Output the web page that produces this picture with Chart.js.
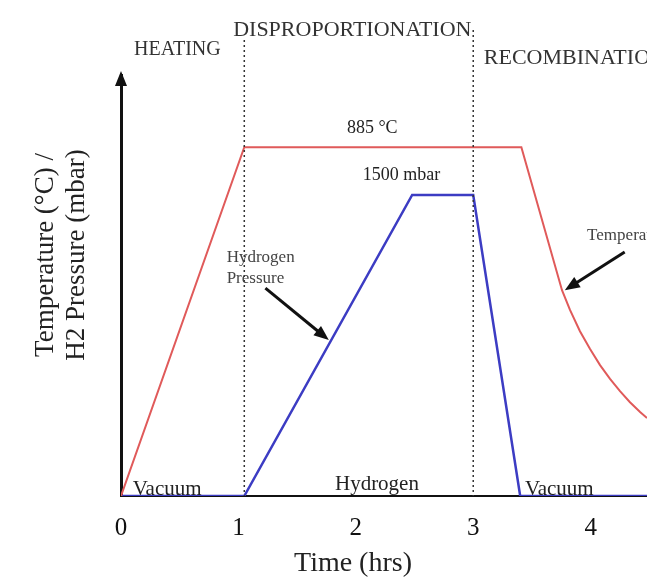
<!DOCTYPE html>
<html>
<head>
<meta charset="utf-8">
<script src="https://cdn.jsdelivr.net/npm/chart.js@4.4.1/dist/chart.umd.min.js"></script>
<style>
  body { margin: 0; background: #fff; }
  canvas { display: block; }
</style>
</head>
<body>
<canvas id="myChart" width="647" height="578"></canvas>
<script>
var serif = '"Liberation Serif", "Times New Roman", serif';

// temperature profile (deg C against hours)
var tempTime = [0, 1.05, 3.41, 3.756, 3.824, 3.909, 3.995, 4.08, 4.165, 4.25, 4.335, 4.421, 4.48];
var tempC = [0, 885, 885, 522, 472, 418, 373, 332, 297, 266, 238, 213, 198];
// hydrogen pressure (mbar against hours)
var presTime = [0, 1.05, 2.48, 3.0, 3.40, 4.48];
var presMbar = [0, 0, 1500, 1500, 0, 0];
var xTicks = [0, 1, 2, 3, 4];
var phaseEdges = [1.05, 3.0];
var phaseNames = ["HEATING", "DISPROPORTIONATION", "RECOMBINATION"];
var gasNames = ["Vacuum", "Hydrogen", "Vacuum"];

function pts(xs, ys) {
  return xs.map(function(v, i) { return {x: v, y: ys[i]}; });
}

function text(ctx, str, px, py, size, align, color) {
  ctx.font = size + "px " + serif;
  ctx.fillStyle = color || "#222";
  ctx.textAlign = align || "center";
  ctx.textBaseline = "middle";
  ctx.fillText(str, px, py);
}

function arrow(ctx, x1, y1, x2, y2) {
  var a = Math.atan2(y2 - y1, x2 - x1);
  var len = 15, w = 6;
  ctx.strokeStyle = "#111";
  ctx.fillStyle = "#111";
  ctx.lineWidth = 3;
  ctx.beginPath();
  ctx.moveTo(x1, y1);
  ctx.lineTo(x2 - Math.cos(a) * len * 0.8, y2 - Math.sin(a) * len * 0.8);
  ctx.stroke();
  ctx.beginPath();
  ctx.moveTo(x2, y2);
  ctx.lineTo(x2 - Math.cos(a) * len + Math.sin(a) * w, y2 - Math.sin(a) * len - Math.cos(a) * w);
  ctx.lineTo(x2 - Math.cos(a) * len - Math.sin(a) * w, y2 - Math.sin(a) * len + Math.cos(a) * w);
  ctx.closePath();
  ctx.fill();
}

var notes = {
  id: "notes",
  afterDatasetsDraw: function(chart) {
    var ctx = chart.ctx, x = chart.scales.x, yT = chart.scales.yT, yP = chart.scales.yP;
    var area = chart.chartArea;
    ctx.save();

    // dotted phase boundaries
    ctx.strokeStyle = "#333";
    ctx.lineWidth = 1.5;
    ctx.setLineDash([2, 3]);
    phaseEdges.forEach(function(t, i) {
      var px = x.getPixelForValue(t);
      ctx.beginPath();
      ctx.moveTo(px, i == 0 ? 40 : 30);
      ctx.lineTo(px, area.bottom);
      ctx.stroke();
    });
    ctx.setLineDash([]);

    // arrow head on the y axis
    ctx.fillStyle = "#111";
    ctx.beginPath();
    ctx.moveTo(area.left, area.top - 4);
    ctx.lineTo(area.left - 6, area.top + 11);
    ctx.lineTo(area.left + 6, area.top + 11);
    ctx.closePath();
    ctx.fill();

    // phase headers
    text(ctx, phaseNames[0], x.getPixelForValue(0.48), 50, 20, "center", "#333");
    text(ctx, phaseNames[1], x.getPixelForValue(1.97), 30, 22, "center", "#333");
    text(ctx, phaseNames[2], x.getPixelForValue(3.09), 58, 22, "left", "#333");

    // plateau values
    text(ctx, "885 \u00B0C", x.getPixelForValue(2.14), yT.getPixelForValue(tempC[1]) - 19, 18, "center", "#222");
    text(ctx, presMbar[2] + " mbar", x.getPixelForValue(2.39), yP.getPixelForValue(presMbar[2]) - 20, 18, "center", "#222");

    // callouts
    text(ctx, "Hydrogen", x.getPixelForValue(0.90), yP.getPixelForValue(1186), 17, "left", "#444");
    text(ctx, "Pressure", x.getPixelForValue(0.90), yP.getPixelForValue(1086), 17, "left", "#444");
    arrow(ctx, x.getPixelForValue(1.23), yP.getPixelForValue(1036), x.getPixelForValue(1.77), yP.getPixelForValue(777));
    text(ctx, "Temperature", x.getPixelForValue(3.97), yT.getPixelForValue(662), 17, "left", "#444");
    arrow(ctx, x.getPixelForValue(4.29), yT.getPixelForValue(619), x.getPixelForValue(3.78), yT.getPixelForValue(522));

    // gas atmosphere along the base
    ctx.font = "21px " + serif;
    ctx.fillStyle = "#222";
    ctx.textAlign = "left";
    ctx.textBaseline = "alphabetic";
    ctx.fillText(gasNames[0], x.getPixelForValue(0.10), area.bottom - 1);
    ctx.textAlign = "center";
    ctx.fillText(gasNames[1], x.getPixelForValue(2.18), area.bottom - 6);
    ctx.textAlign = "left";
    ctx.fillText(gasNames[2], x.getPixelForValue(3.44), area.bottom - 1);

    // axis titles
    text(ctx, "Time (hrs)", 353, 564, 28, "center", "#222");
    ctx.translate(0, 255);
    ctx.rotate(-Math.PI / 2);
    text(ctx, "Temperature (\u00B0C) /", 0, 46, 27, "center", "#222");
    text(ctx, "H2 Pressure (mbar)", 0, 77, 27, "center", "#222");
    ctx.restore();
  }
};

new Chart("myChart", {
  type: "line",
  data: {
    datasets: [{
      label: "Temperature",
      data: pts(tempTime, tempC),
      yAxisID: "yT",
      borderColor: "rgb(224,90,90)",
      borderWidth: 2,
      pointRadius: 0,
      fill: false,
      tension: 0
    }, {
      label: "Hydrogen Pressure",
      data: pts(presTime, presMbar),
      yAxisID: "yP",
      borderColor: "rgb(60,60,195)",
      borderWidth: 2.5,
      pointRadius: 0,
      fill: false,
      tension: 0
    }]
  },
  options: {
    responsive: false,
    animation: false,
    layout: {padding: {top: 75, left: 0, right: 0, bottom: 0}},
    plugins: {legend: {display: false}, tooltip: {enabled: false}},
    scales: {
      x: {
        type: "linear",
        min: 0,
        max: 4.48,
        afterBuildTicks: function(s) { s.ticks = xTicks.map(function(v) { return {value: v}; }); },
        afterFit: function(s) { s.height = 82; },
        grid: {display: false, drawTicks: false},
        border: {display: true, color: "#111", width: 2},
        ticks: {padding: 17, color: "#111", font: {family: serif, size: 25}, maxRotation: 0}
      },
      yT: {
        position: "left",
        min: 0,
        max: 1068,
        afterFit: function(s) { s.width = 121; },
        grid: {display: false, drawTicks: false},
        border: {display: true, color: "#111", width: 3},
        ticks: {display: false}
      },
      yP: {
        display: false,
        min: 0,
        max: 2098
      }
    }
  },
  plugins: [notes]
});
</script>
</body>
</html>
